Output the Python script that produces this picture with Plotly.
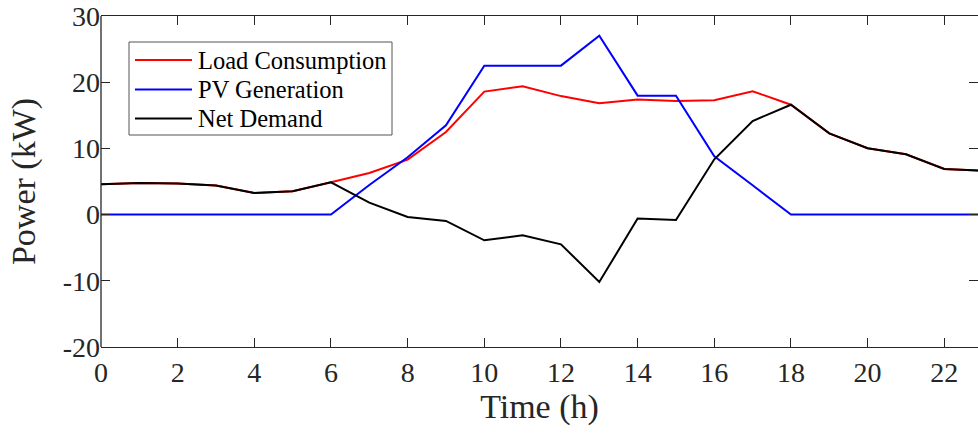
import plotly.graph_objects as go

hours = list(range(24))
load_consumption = [4.58, 4.78, 4.68, 4.38, 3.26, 3.52, 4.88, 6.28, 8.3, 12.48, 18.58, 19.38,
                    17.9, 16.81, 17.37, 17.16, 17.27, 18.63, 16.6, 12.28, 10.02, 9.11, 6.89, 6.64]
pv_generation = [0, 0, 0, 0, 0, 0, 0, 4.47, 8.66, 13.49, 22.5, 22.5,
                 22.5, 27.04, 17.97, 17.97, 8.8, 4.43, 0, 0, 0, 0, 0, 0]
net_demand = [4.58, 4.78, 4.68, 4.38, 3.26, 3.52, 4.88, 1.81, -0.36, -0.96, -3.88, -3.13,
              -4.49, -10.18, -0.6, -0.81, 8.35, 14.14, 16.6, 12.28, 10.02, 9.11, 6.89, 6.64]

series_names = ["Load Consumption", "PV Generation", "Net Demand"]
series_colors = ["#ff0000", "#0000ff", "#000000"]

xtick_vals = [0, 2, 4, 6, 8, 10, 12, 14, 16, 18, 20, 22]
xtick_text = [str(v) for v in xtick_vals]
ytick_vals = [-20, -10, 0, 10, 20, 30]
ytick_text = ["-20", "-10", "0", "10", "20", "30"]

FONT = "Liberation Serif"
AX = "#262626"
W, H = 978, 438
ML, MR, MT, MB = 101, 0, 16, 91
PW, PH = W - ML - MR, H - MT - MB


def px_x(p):
    return (p - ML) / PW


def px_y(p):
    return 1 - (p - MT) / PH


fig = go.Figure()
for name, vals, col in zip(series_names, [load_consumption, pv_generation, net_demand], series_colors):
    fig.add_trace(go.Scatter(x=hours, y=vals, mode="lines", name=name,
                             line=dict(color=col, width=2), showlegend=False))

# legend box drawn as shapes + text annotations
shapes = [
    dict(type="rect", xref="paper", yref="paper", x0=px_x(129), x1=px_x(392),
         y0=px_y(135), y1=px_y(42), line=dict(color="#555555", width=1),
         fillcolor="white", layer="above"),
    dict(type="line", xref="paper", yref="paper", x0=0, x1=0, y0=0, y1=1,
         line=dict(color=AX, width=1.3), layer="above"),
]
annotations = []
rows = [60, 89.5, 118.5]
for name, col, r in zip(series_names, series_colors, rows):
    shapes.append(dict(type="line", xref="paper", yref="paper", x0=px_x(135), x1=px_x(192),
                       y0=px_y(r), y1=px_y(r), line=dict(color=col, width=2), layer="above"))
    annotations.append(dict(text=name, xref="paper", yref="paper", x=px_x(196), y=px_y(r),
                            xanchor="left", yanchor="middle", showarrow=False,
                            font=dict(family=FONT, size=24.5, color="#000000")))

fig.update_layout(
    width=W, height=H,
    margin=dict(l=ML, r=MR, t=MT, b=MB),
    paper_bgcolor="white", plot_bgcolor="white",
    font=dict(family=FONT, color="#000000"),
    showlegend=False,
    shapes=shapes, annotations=annotations,
    xaxis=dict(range=[0, 22.88], tickvals=xtick_vals, ticktext=xtick_text,
               ticks="inside", ticklen=9, tickcolor=AX, tickwidth=1,
               showline=True, linecolor=AX, linewidth=1.3, mirror="ticks",
               showgrid=False, zeroline=False,
               tickfont=dict(family=FONT, size=28, color=AX),
               title=dict(text="Time (h)", font=dict(family=FONT, size=34, color=AX), standoff=6)),
    yaxis=dict(range=[-20, 30], tickvals=ytick_vals, ticktext=ytick_text,
               ticks="inside", ticklen=9, tickcolor=AX, tickwidth=1,
               showline=False, mirror="ticks",
               showgrid=False, zeroline=False,
               tickfont=dict(family=FONT, size=28, color=AX),
               title=dict(text="Power (kW)", font=dict(family=FONT, size=34, color=AX), standoff=16)),
)

fig.write_html("out.html")
